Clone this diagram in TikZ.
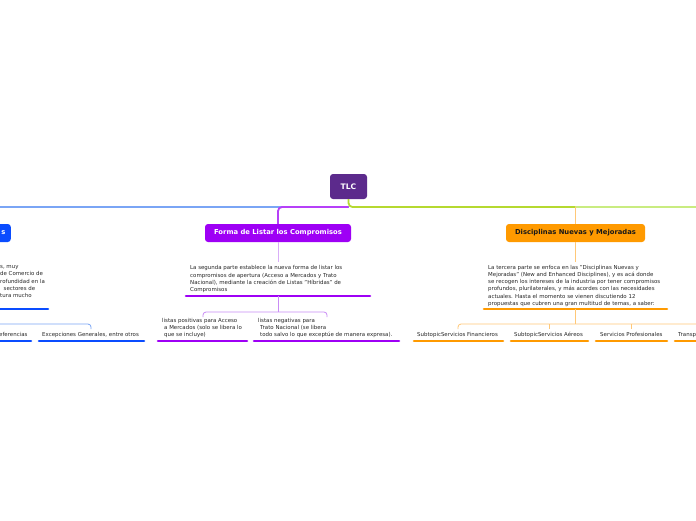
\documentclass[tikz,border=0pt]{standalone}
\usepackage{fontspec}
\setmainfont{DejaVu Sans}
\definecolor{tlcpurple}{HTML}{5C2A8C}
\definecolor{bblue}{HTML}{0A4CFF}
\definecolor{lblue}{HTML}{7AA5F5}
\definecolor{vpurple}{HTML}{9E00F5}
\definecolor{lpurple}{HTML}{C98CF5}
\definecolor{orng}{HTML}{FF9A00}
\definecolor{lorng}{HTML}{FFC878}
\definecolor{grn}{HTML}{B5D930}
\definecolor{lgrn}{HTML}{C9EC80}
\definecolor{txt}{HTML}{262626}
\begin{document}
\begin{tikzpicture}[x=1pt,y=-1pt,
  topic/.style={rounded corners=3pt, inner sep=0pt, minimum height=18pt, font=\fontsize{6.8}{7}\selectfont\bfseries},
  desc/.style={anchor=north west, align=left, inner sep=0pt, text=txt, font=\fontsize{5.45}{7.2}\selectfont},
  leaf/.style={anchor=base west, inner sep=0pt, text=txt, font=\fontsize{5.45}{7.2}\selectfont},
  bar/.style={line width=2.6pt, line cap=round},
  mainlink/.style={line width=1.8pt, rounded corners=4pt},
  link/.style={line width=0.8pt, rounded corners=3pt}]
\useasboundingbox (0,0) rectangle (696,520);
\clip (0,0) rectangle (696,520);
\fill[white] (0,0) rectangle (696,520);

% central topic
\node[topic, fill=tlcpurple, text=white, minimum width=37pt, minimum height=25pt, font=\fontsize{7.6}{8}\selectfont\bfseries] (tlc) at (348.5,186.5) {TLC};

% main topics
\node[topic, fill=bblue, text=white, minimum width=90pt, anchor=east] (blue) at (11,233) {\hspace*{75pt}s};
\node[topic, fill=vpurple, text=white, minimum width=146pt] (forma) at (278,233) {Forma de Listar los Compromisos};
\node[topic, fill=orng, text=black!90, minimum width=139pt] (disc) at (575.5,233) {Disciplinas Nuevas y Mejoradas};

% main branches
\coordinate (hub) at (348.5,207);
\coordinate (leftend) at (0,207);
\coordinate (rightend) at (696,207);
\draw[mainlink, lblue] (hub) -- (leftend);
\draw[mainlink, vpurple!75] (hub) -- (278,207) -- (forma.north);
\draw[mainlink, grn] (tlc.south) -- (hub) -- (575.5,207);
\draw[mainlink, lgrn] (575.5,207) -- (rightend);
\draw[mainlink, lorng] (575.5,207) -- (disc.north);

% --- purple subtree
\coordinate (fdesc) at (278,262);
\draw[link, lpurple!70] (forma.south) -- (fdesc);
\node[desc] (ftext) at (190,265.5) {La segunda parte establece la nueva forma de listar los\\compromisos de apertura (Acceso a Mercados y Trato\\Nacional), mediante la creación de Listas "Híbridas" de\\Compromisos};
\coordinate (fbarL) at (186,296);
\coordinate (fbarR) at (370,296);
\coordinate (fbarM) at (278,296);
\draw[bar, vpurple] (fbarL) -- (fbarR);
\coordinate (fpos) at (203,317);
\coordinate (fneg) at (327,317);
\draw[link, lpurple] (fbarM) -- (278,312);
\draw[link, lpurple] (fpos) -- (203,312) -- (327,312) -- (fneg);
\node[desc] (ptext) at (162,318) {listas positivas para Acceso\\\hspace*{2pt}a Mercados (solo se libera lo\\\hspace*{2pt}que se incluye)};
\node[desc] (ntext) at (258,318) {listas negativas para\\\hspace*{2pt}Trato Nacional (se libera\\\hspace*{2pt}todo salvo lo que exceptúe de manera expresa).};
\draw[bar, vpurple] (158,341) -- (247,341);
\draw[bar, vpurple] (254,341) -- (399,341);

% --- orange subtree
\coordinate (ddesc) at (575.5,262);
\draw[link, lorng] (disc.south) -- (ddesc);
\node[desc] (dtext) at (488,265) {La tercera parte se enfoca en las "Disciplinas Nuevas y\\Mejoradas" (New and Enhanced Disciplines), y es acá donde\\se recogen los intereses de la industria por tener compromisos\\profundos, plurilaterales, y más acordes con las necesidades\\actuales. Hasta el momento se vienen discutiendo 12\\propuestas que cubren una gran multitud de temas, a saber:};
\coordinate (dbarM) at (575.5,309);
\draw[bar, orng] (484,309) -- (667,309);
\draw[link, lorng] (dbarM) -- (575.5,324);
\coordinate (o1) at (458,329);
\coordinate (o2) at (549,329);
\coordinate (o3) at (631,329);
\coordinate (o4) at (712,329);
\draw[link, lorng] (o1) -- (458,324) -- (712,324) -- (o4);
\draw[link, lorng] (o2) -- (549,324);
\draw[link, lorng] (o3) -- (631,324);
\node[leaf] (s1) at (417,336) {SubtopicServicios Financieros};
\node[leaf] (s2) at (514,336) {SubtopicServicios Aéreos};
\node[leaf] (s3) at (600,336) {Servicios Profesionales};
\node[leaf] (s4) at (678,336) {Transp};
\draw[bar, orng] (414,341) -- (503,341);
\draw[bar, orng] (511,341) -- (588,341);
\draw[bar, orng] (596,341) -- (667,341);
\draw[bar, orng] (675,341) -- (720,341);

% --- blue subtree
\node[desc] (btext) at (0,265.5) {s, muy\\de Comercio de\\rofundidad en la\\\hspace*{3.5pt}sectores de\\tura mucho};
\draw[bar, bblue] (-10,309) -- (48,309);
\coordinate (b2) at (91,329);
\draw[link, lblue] (-10,324) -- (91,324) -- (b2);
\node[leaf] (bl1) at (-1,336) {eferencias};
\node[leaf] (bl2) at (42,336) {Excepciones Generales, entre otros};
\draw[bar, bblue] (-10,341) -- (31,341);
\draw[bar, bblue] (39,341) -- (144,341);
\end{tikzpicture}
\end{document}
